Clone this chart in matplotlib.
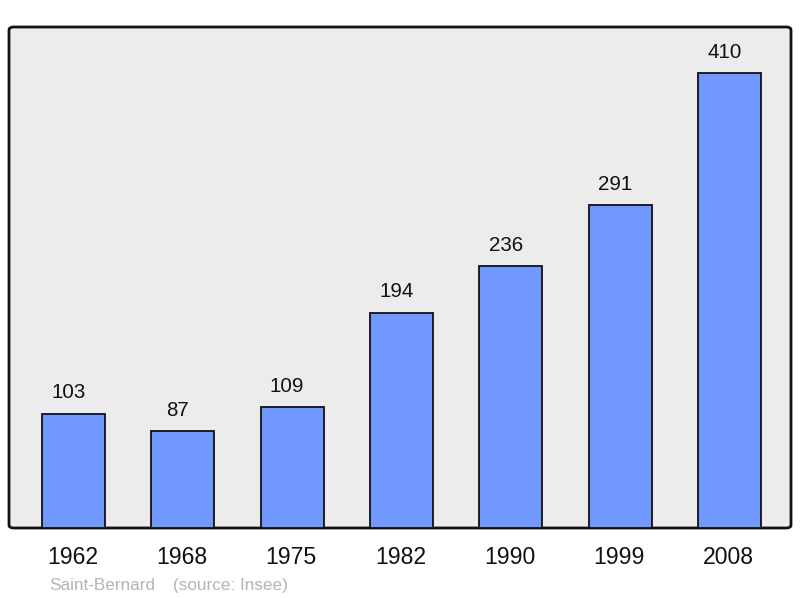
import matplotlib.pyplot as plt
from matplotlib.patches import FancyBboxPatch

years = ['1962', '1968', '1975', '1982', '1990', '1999', '2008']
population = [103, 87, 109, 194, 236, 291, 410]
commune = 'Saint-Bernard'
source = '(source: Insee)'

plt.rcParams['font.family'] = ['Liberation Sans', 'DejaVu Sans']

fig = plt.figure(figsize=(8, 5.98), dpi=100)
ax = fig.add_axes([9 / 800, 70 / 598, 782 / 800, 501 / 598])
ax.set_xlim(-0.59, 6.563)
ax.set_ylim(0, 451.4)
ax.axis('off')

panel = FancyBboxPatch((0, 0), 1, 1, boxstyle='round,pad=0,rounding_size=0.006',
                       transform=ax.transAxes, facecolor='#ececec',
                       edgecolor='#111111', linewidth=2, zorder=0, clip_on=False)
ax.add_patch(panel)

xs = range(len(years))
ax.bar(xs, population, width=0.576, color='#7098ff', edgecolor='#111111',
       linewidth=1.3, zorder=2)

for x, v in zip(xs, population):
    ax.annotate(str(v), (x, v), xytext=(-3.6, 11), textcoords='offset points',
                ha='center', va='baseline', fontsize=14.8, color='#111111')

for x, y in zip(xs, years):
    ax.annotate(y, (x, 0), xytext=(-0.8, -26), textcoords='offset points',
                ha='center', va='baseline', fontsize=16.6, color='#111111',
                annotation_clip=False)

fig.text(49 / 800, 1 - 590 / 598, commune, fontsize=12.3, color='#b4b4b4',
         va='baseline')
fig.text(173 / 800, 1 - 590 / 598, source, fontsize=12.3, color='#b4b4b4',
         va='baseline')

fig.savefig('out.png', dpi=100)
